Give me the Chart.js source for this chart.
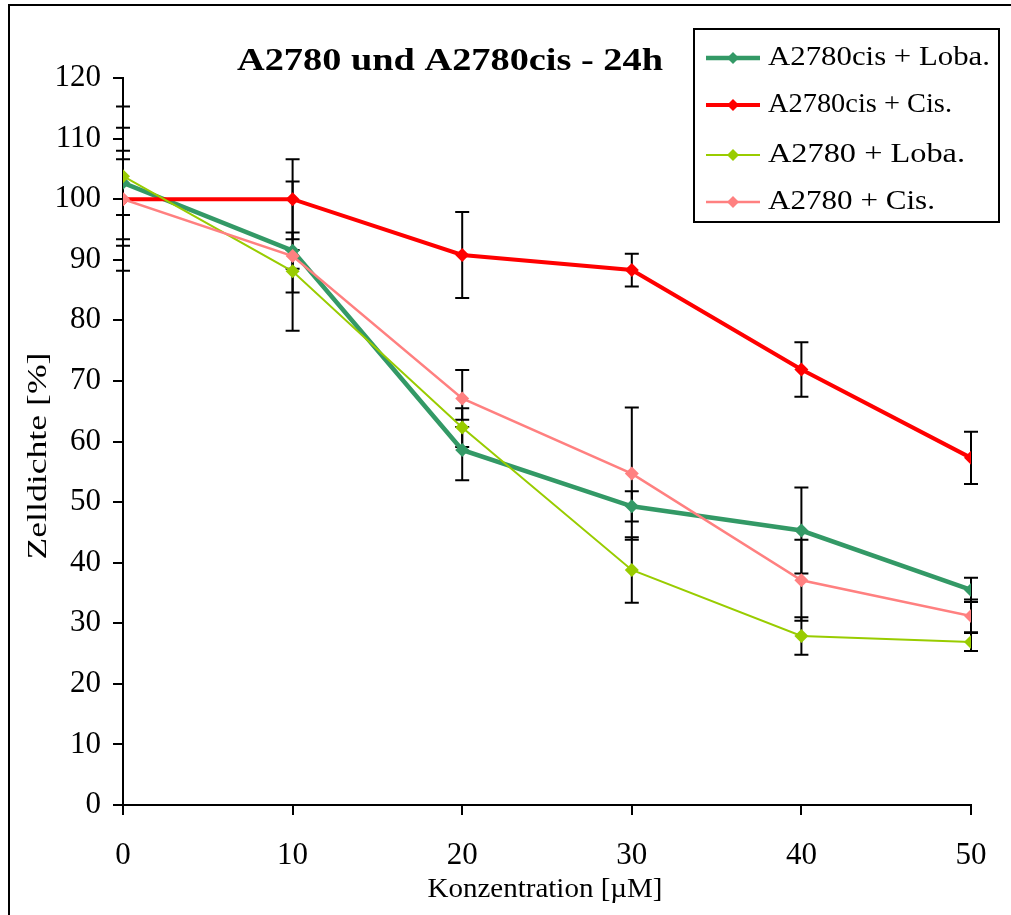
<!DOCTYPE html>
<html>
<head>
<meta charset="utf-8">
<script src="https://cdn.jsdelivr.net/npm/chart.js@4"></script>
<style>
  html, body { margin: 0; padding: 0; background: #fff; }
  #wrap { width: 1011px; height: 915px; position: relative; }
</style>
</head>
<body>
<div id="wrap"><canvas id="myChart"></canvas></div>
<script>
// Konzentration [µM]
var konz = [0, 10, 20, 30, 40, 50];

// Mittelwerte Zelldichte [%]
var cisLoba = [102.7, 91.5, 58.6, 49.3, 45.3, 35.5];
var cisCis  = [100, 100, 90.8, 88.3, 71.9, 57.3];
var wtLoba  = [103.8, 88.1, 62.3, 38.8, 27.9, 26.9];
var wtCis   = [100, 90.6, 67.1, 54.7, 37.1, 31.2];

// Standardabweichungen
var errCisLoba = [5.3, 3.0, 5.0, 2.5, 7.1, 2.0];
var errCisCis  = [11.8, 6.6, 7.1, 2.7, 4.5, 4.3];
var errWtLoba  = [11.5, 3.5, 3.2, 5.4, 3.1, 1.5];
var errWtCis   = [6.6, 12.3, 4.7, 10.9, 6.7, 2.7];

var namen = ["A2780cis + Loba.", "A2780cis + Cis.", "A2780 + Loba.", "A2780 + Cis."];
var titel = "A2780 und A2780cis - 24h";
var xTitel = "Konzentration [µM]";
var yTitel = "Zelldichte [%]";

var farben = ["#339966", "#ff0000", "#99cc00", "#ff8080"];
var dicken = [4.5, 4, 2, 2.5];
var werte = [cisLoba, cisCis, wtLoba, wtCis];
var fehler = [errCisLoba, errCisCis, errWtLoba, errWtCis];

var serif = '"Liberation Serif", "Times New Roman", Times, serif';

function punkte(arr) {
    return arr.map(function (v, i) { return { x: konz[i], y: v }; });
}

// Text auf eine bestimmte Breite gestreckt zeichnen
function streckText(ctx, txt, x, y, breite, align) {
    var w = ctx.measureText(txt).width;
    var s = breite / w;
    ctx.save();
    ctx.translate(x, y);
    ctx.scale(s, 1);
    ctx.textAlign = align || "left";
    ctx.fillText(txt, 0, 0);
    ctx.restore();
}

var extras = {
    id: "extras",
    beforeDraw: function (chart) {
        var ctx = chart.ctx;
        ctx.save();
        ctx.fillStyle = "#fff";
        ctx.fillRect(0, 0, chart.width, chart.height);
        // Rahmen
        ctx.strokeStyle = "#000";
        ctx.lineWidth = 2;
        ctx.beginPath();
        ctx.moveTo(9, chart.height + 2);
        ctx.lineTo(9, 5);
        ctx.lineTo(chart.width + 2, 5);
        ctx.stroke();
        ctx.restore();
    },
    beforeDatasetsDraw: function (chart) {
        var ctx = chart.ctx;
        var xs = chart.scales.x, ys = chart.scales.y;
        ctx.save();
        ctx.strokeStyle = "#000";
        ctx.lineWidth = 2;
        for (var d = 0; d < werte.length; d++) {
            for (var i = 0; i < konz.length; i++) {
                var px = xs.getPixelForValue(konz[i]);
                var top = ys.getPixelForValue(werte[d][i] + fehler[d][i]);
                var bot = ys.getPixelForValue(werte[d][i] - fehler[d][i]);
                ctx.beginPath();
                ctx.moveTo(px, top); ctx.lineTo(px, bot);
                ctx.moveTo(px - 7, top); ctx.lineTo(px + 7, top);
                ctx.moveTo(px - 7, bot); ctx.lineTo(px + 7, bot);
                ctx.stroke();
            }
        }
        ctx.restore();
    },
    afterDraw: function (chart) {
        var ctx = chart.ctx;
        ctx.save();
        ctx.fillStyle = "#000";
        ctx.textBaseline = "alphabetic";

        // Titel
        ctx.font = "bold 31px " + serif;
        streckText(ctx, titel, 450, 70, 426, "center");

        // Achsentitel
        ctx.font = "27px " + serif;
        streckText(ctx, xTitel, 545, 897, 235, "center");

        ctx.save();
        ctx.translate(46, 456);
        ctx.rotate(-Math.PI / 2);
        ctx.font = "27px " + serif;
        streckText(ctx, yTitel, 0, 0, 207, "center");
        ctx.restore();

        // Legende
        ctx.strokeStyle = "#000";
        ctx.lineWidth = 2;
        ctx.fillStyle = "#fff";
        ctx.fillRect(694, 29, 305, 193);
        ctx.strokeRect(694, 29, 305, 193);
        var zeilen = [58, 105, 155, 202];
        var breiten = [222, 184, 197, 167];
        for (var k = 0; k < namen.length; k++) {
            var yy = zeilen[k];
            ctx.strokeStyle = farben[k];
            ctx.lineWidth = dicken[k];
            ctx.beginPath();
            ctx.moveTo(706, yy); ctx.lineTo(760, yy);
            ctx.stroke();
            ctx.fillStyle = farben[k];
            ctx.beginPath();
            ctx.moveTo(733, yy - 6); ctx.lineTo(739, yy);
            ctx.lineTo(733, yy + 6); ctx.lineTo(727, yy);
            ctx.closePath();
            ctx.fill();
            ctx.fillStyle = "#000";
            ctx.font = "28px " + serif;
            ctx.textBaseline = "middle";
            streckText(ctx, namen[k], 768, yy, breiten[k], "left");
        }
        ctx.restore();
    }
};

var datensaetze = werte.map(function (arr, k) {
    return {
        label: namen[k],
        data: punkte(arr),
        borderColor: farben[k],
        backgroundColor: farben[k],
        borderWidth: dicken[k],
        pointStyle: "rectRot",
        pointRadius: 7,
        pointBorderWidth: 0,
        pointBackgroundColor: farben[k],
        tension: 0,
        order: 4 - k
    };
});

var graficar = document.getElementById("myChart").getContext("2d");
var myChart = new Chart(graficar, {
    type: "line",
    data: { datasets: datensaetze },
    options: {
        responsive: true,
        maintainAspectRatio: false,
        animation: false,
        layout: { padding: { top: 78, right: 40, left: 0, bottom: 0 } },
        plugins: { legend: { display: false }, title: { display: false }, tooltip: { enabled: false } },
        scales: {
            x: {
                type: "linear",
                min: 0, max: 50,
                afterFit: function (s) { s.height = 110; },
                ticks: { stepSize: 10, color: "#000", font: { family: serif, size: 31 }, padding: 22, maxRotation: 0 },
                grid: { drawOnChartArea: false, drawTicks: true, tickLength: 10, color: "#000", lineWidth: 2 },
                border: { color: "#000", width: 2 }
            },
            y: {
                min: 0, max: 120,
                afterFit: function (s) { s.width = 123; },
                ticks: { stepSize: 10, color: "#000", font: { family: serif, size: 31 }, padding: 12 },
                grid: { drawOnChartArea: false, drawTicks: true, tickLength: 10, color: "#000", lineWidth: 2 },
                border: { color: "#000", width: 2 }
            }
        }
    },
    plugins: [extras]
});
</script>
</body>
</html>
